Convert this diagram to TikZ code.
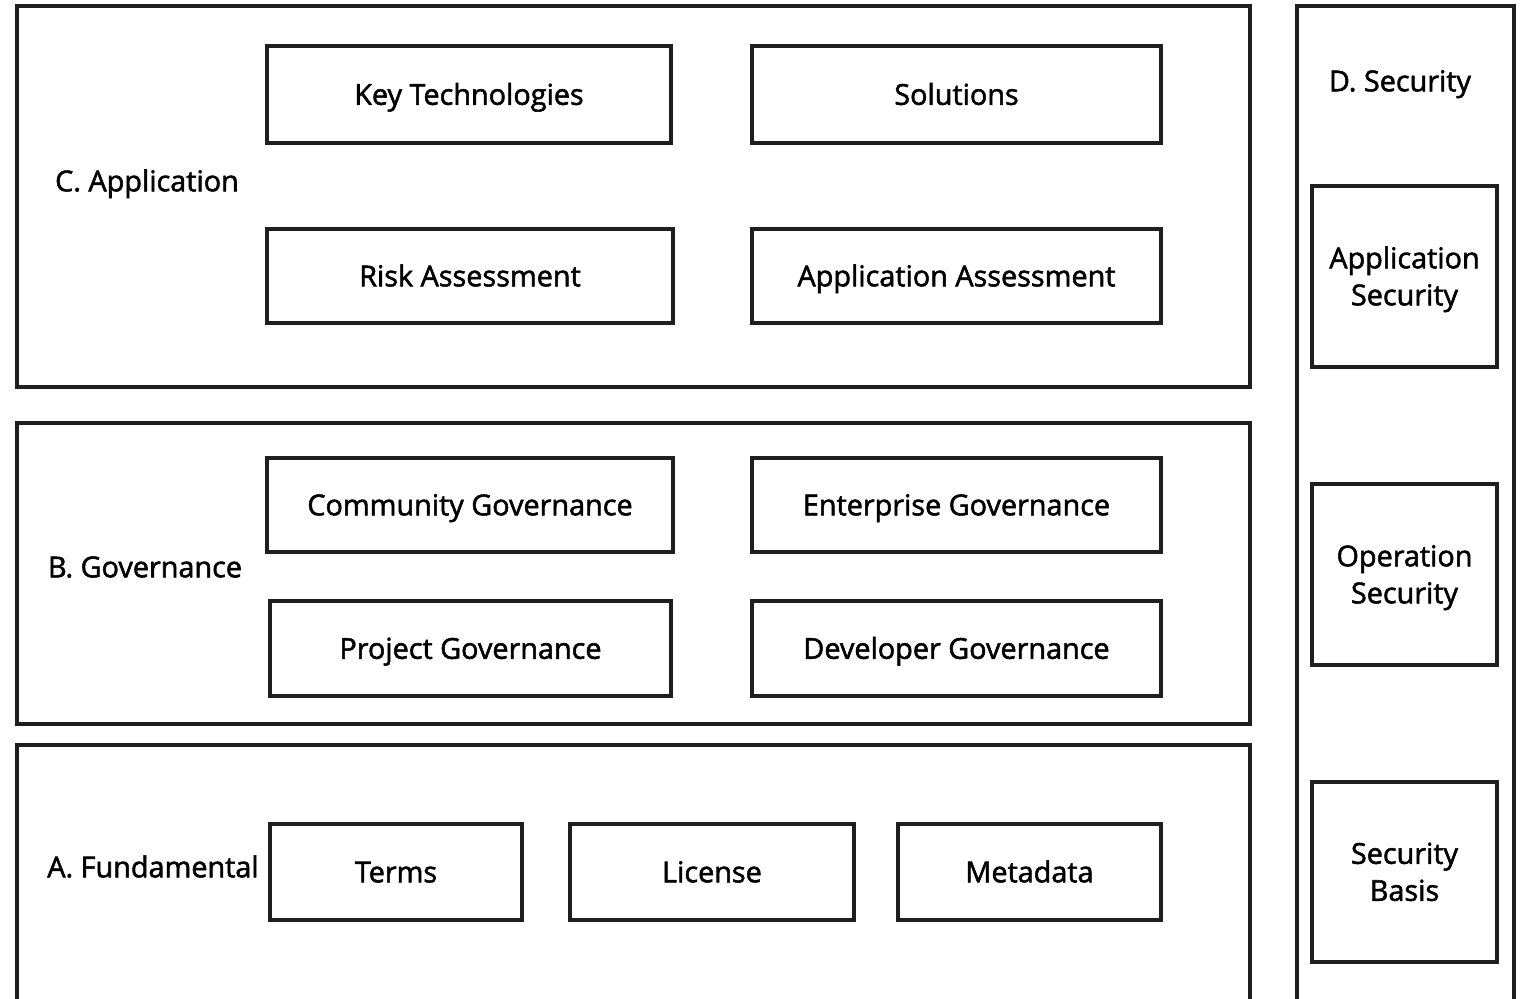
\documentclass[tikz,border=0pt]{standalone}
\usepackage{fontspec}
\setmainfont{Open Sans}[FakeBold=1.8]
\begin{document}
\begin{tikzpicture}[x=1pt,y=-1pt,
  txt/.style={font=\fontsize{28.8}{37}\selectfont, align=center, text height=20.6pt, text depth=0pt},
  frame/.style={draw=black!88, line width=3.2pt, rectangle, inner sep=0pt},
  box/.style={draw=black!88, line width=3.2pt, rectangle, inner sep=0pt, txt},
  twoline/.style={text height=57.6pt},
  lab/.style={inner sep=0pt, txt}]
\useasboundingbox (0,0) rectangle (1524,999);
\begin{scope}
\clip (0,0) rectangle (1524,999);
% outer layers
\node[frame, minimum width=1233pt, minimum height=381pt] (C) at (633.5,196.5) {};
\node[frame, minimum width=1233pt, minimum height=301pt] (B) at (633.5,573.5) {};
\node[frame, minimum width=1233pt, minimum height=262pt] (A) at (633.5,876) {};
\node[frame, minimum width=217pt, minimum height=1001pt] (D) at (1405.5,506.5) {};
\end{scope}
% layer titles
\node[lab] (Ct) at (147,181) {C. Application};
\node[lab] (Bt) at (145,567) {B. Governance};
\node[lab] (At) at (153,867) {A. Fundamental};
\node[lab] (Dt) at (1400,81) {D. Security};
% C boxes
\node[box, minimum width=404pt, minimum height=97pt] (kt) at (469,94.5) {Key Technologies};
\node[box, minimum width=409pt, minimum height=97pt] (so) at (956.5,94.5) {Solutions};
\node[box, minimum width=406pt, minimum height=94pt] (ra) at (470,276) {Risk Assessment};
\node[box, minimum width=409pt, minimum height=94pt] (aa) at (956.5,276) {Application Assessment};
% B boxes
\node[box, minimum width=406pt, minimum height=94pt] (cg) at (470,505) {Community Governance};
\node[box, minimum width=409pt, minimum height=94pt] (eg) at (956.5,505) {Enterprise Governance};
\node[box, minimum width=401pt, minimum height=95pt] (pg) at (470.5,648.5) {Project Governance};
\node[box, minimum width=409pt, minimum height=95pt] (dg) at (956.5,648.5) {Developer Governance};
% A boxes
\node[box, minimum width=252pt, minimum height=96pt] (te) at (396,872) {Terms};
\node[box, minimum width=284pt, minimum height=96pt] (li) at (712,872) {License};
\node[box, minimum width=263pt, minimum height=96pt] (md) at (1029.5,872) {Metadata};
% D boxes
\node[box, twoline, minimum width=185pt, minimum height=181pt] (as) at (1404.5,276.5) {Application\\Security};
\node[box, twoline, minimum width=185pt, minimum height=181pt] (os) at (1404.5,574.5) {Operation\\Security};
\node[box, twoline, minimum width=185pt, minimum height=180pt] (sb) at (1404.5,872) {Security\\Basis};
\end{tikzpicture}
\end{document}
